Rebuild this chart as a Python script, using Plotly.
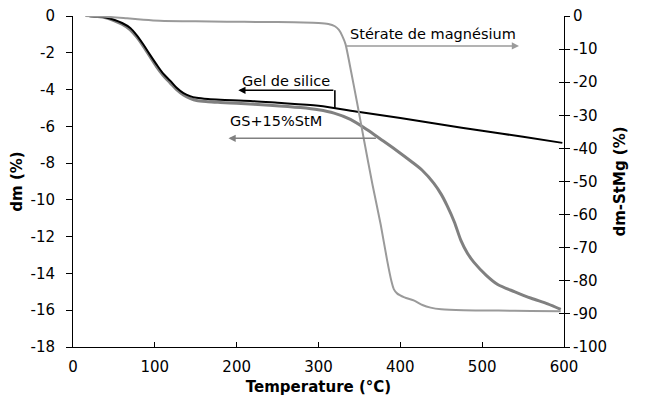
import plotly.graph_objects as go

# Gel de silice (left axis, %)
T_gel = [20, 30, 40, 50, 60, 70, 78, 86, 94, 102, 110, 119, 127, 135, 143, 151, 165, 180, 217, 250, 300, 350, 400, 450, 500, 550, 598]
dm_gel = [0, -0.02, -0.08, -0.2, -0.38, -0.65, -1.05, -1.55, -2.1, -2.63, -3.12, -3.53, -3.92, -4.2, -4.36, -4.45, -4.52, -4.56, -4.62, -4.72, -4.88, -5.22, -5.55, -5.9, -6.24, -6.57, -6.9]

# GS + 15% StM (left axis, %)
T_gs = [20, 30, 40, 50, 60, 70, 78, 86, 94, 102, 110, 119, 127, 135, 143, 151, 165, 180, 200, 240, 278, 300, 319, 339,
        360, 376, 395, 413, 427, 441, 450, 457, 466, 474, 482, 490, 505, 519, 540, 560, 580, 596]
dm_gs = [0, -0.03, -0.1, -0.25, -0.45, -0.75, -1.15, -1.65, -2.2, -2.75, -3.22, -3.65, -4.02, -4.3, -4.48, -4.6, -4.66, -4.7,
         -4.75, -4.85, -4.98, -5.1, -5.28, -5.62, -6.2, -6.7, -7.3, -7.9, -8.4, -9.1, -9.7, -10.3, -11.2, -12.2, -12.9,
         -13.4, -14.1, -14.6, -15.0, -15.35, -15.65, -15.95]

# Stéarate de magnésium (right axis, %)
T_stmg = [15, 40, 66, 86, 106, 150, 188, 230, 270, 300, 312, 320, 325, 329, 333, 340, 347, 356, 366, 376, 384, 389, 392,
          396, 405, 417, 427, 437, 450, 477, 520, 560, 596]
dm_stmg = [0, -0.2, -0.7, -1.1, -1.4, -1.6, -1.7, -1.8, -1.9, -2.1, -2.4, -3.1, -4.2, -6.0, -8.5, -17, -26, -38, -51, -63,
           -74, -80, -82.5, -83.8, -85, -86, -87.3, -88.1, -88.6, -88.9, -89.0, -89.1, -89.2]

x_ticks = [0, 100, 200, 300, 400, 500, 600]
y_ticks = [0, -2, -4, -6, -8, -10, -12, -14, -16, -18]
y2_ticks = [0, -10, -20, -30, -40, -50, -60, -70, -80, -90, -100]

FONT = "DejaVu Sans"

def hy(vals):
    return [str(v).replace("\u2212", "-") for v in vals]

fig = go.Figure()
fig.add_trace(go.Scatter(x=T_stmg, y=dm_stmg, mode="lines", yaxis="y2",
                         line=dict(color="#9a9a9a", width=2, shape="spline", smoothing=0.6),
                         name="Stérate de magnésium"))
fig.add_trace(go.Scatter(x=T_gs, y=dm_gs, mode="lines",
                         line=dict(color="#808080", width=3, shape="spline", smoothing=0.8), name="GS+15%StM"))
fig.add_trace(go.Scatter(x=T_gel, y=dm_gel, mode="lines",
                         line=dict(color="#000000", width=2, shape="spline", smoothing=0.8), name="Gel de silice"))
# invisible trace to carry the inner tick marks of the right axis
fig.add_trace(go.Scatter(x=[0], y=[0], mode="lines", yaxis="y3", opacity=0,
                         showlegend=False, hoverinfo="skip"))

ann = []
def arrow(x_head, x_tail, y, color):
    ann.append(dict(x=x_head, y=y, ax=x_tail, ay=y, xref="x", yref="y", axref="x", ayref="y",
                    showarrow=True, arrowhead=2, arrowsize=0.9, arrowwidth=1.6, arrowcolor=color, text=""))

def label(x, y, text):
    ann.append(dict(x=x, y=y, xref="x", yref="y", text=text, showarrow=False,
                    xanchor="left", yanchor="middle", font=dict(family=FONT, size=14.5, color="#000")))

arrow(545, 333, -1.63, "#9a9a9a")
label(336, -1.0, "Stérate de magnésium")
arrow(202, 320, -4.04, "#000000")
label(204, -3.53, "Gel de silice")
arrow(190, 372, -6.65, "#808080")
label(190, -5.71, "GS+15%StM")

fig.add_shape(type="line", x0=320, x1=320, y0=-4.04, y1=-5.0, xref="x", yref="y",
              line=dict(color="#000000", width=1.6))

fig.update_layout(
    width=645, height=405,
    margin=dict(l=65, r=89, t=8, b=66),
    paper_bgcolor="white", plot_bgcolor="white",
    showlegend=False,
    font=dict(family=FONT, size=15, color="#000"),
    annotations=ann,
    xaxis=dict(range=[0, 600], tickvals=x_ticks, ticktext=hy(x_ticks), showgrid=False, zeroline=False,
               showline=True, linecolor="#000", linewidth=1, ticks="inside", ticklen=5,
               tickcolor="#000", automargin=False, ticklabelstandoff=6, ticklabeloverflow="allow",
               title=dict(text="<b>Temperature (°C)</b>", font=dict(size=15), standoff=6)),
    yaxis=dict(range=[-18, 0], tickvals=y_ticks, ticktext=hy(y_ticks), showgrid=False, zeroline=False,
               showline=True, linecolor="#000", linewidth=1, ticks="outside", ticklen=6,
               tickcolor="#000", automargin=False, ticklabelstandoff=8, ticklabeloverflow="allow",
               title=dict(text="<b>dm (%)</b>", font=dict(size=15), standoff=8)),
    yaxis2=dict(range=[-100, 0], tickvals=y2_ticks, ticktext=hy(y2_ticks), overlaying="y", side="right",
                showgrid=False, zeroline=False, showline=True, linecolor="#000", linewidth=1,
                ticks="outside", ticklen=5, tickcolor="#000", automargin=False, ticklabeloverflow="allow",
                title=dict(text="<b>dm-StMg (%)</b>", font=dict(size=15), standoff=8)),
    yaxis3=dict(range=[-100, 0], tickvals=y2_ticks, overlaying="y", side="right",
                showgrid=False, zeroline=False, showline=False, showticklabels=False,
                ticks="inside", ticklen=5, tickcolor="#000", automargin=False),
)

fig.write_html("out.html")
